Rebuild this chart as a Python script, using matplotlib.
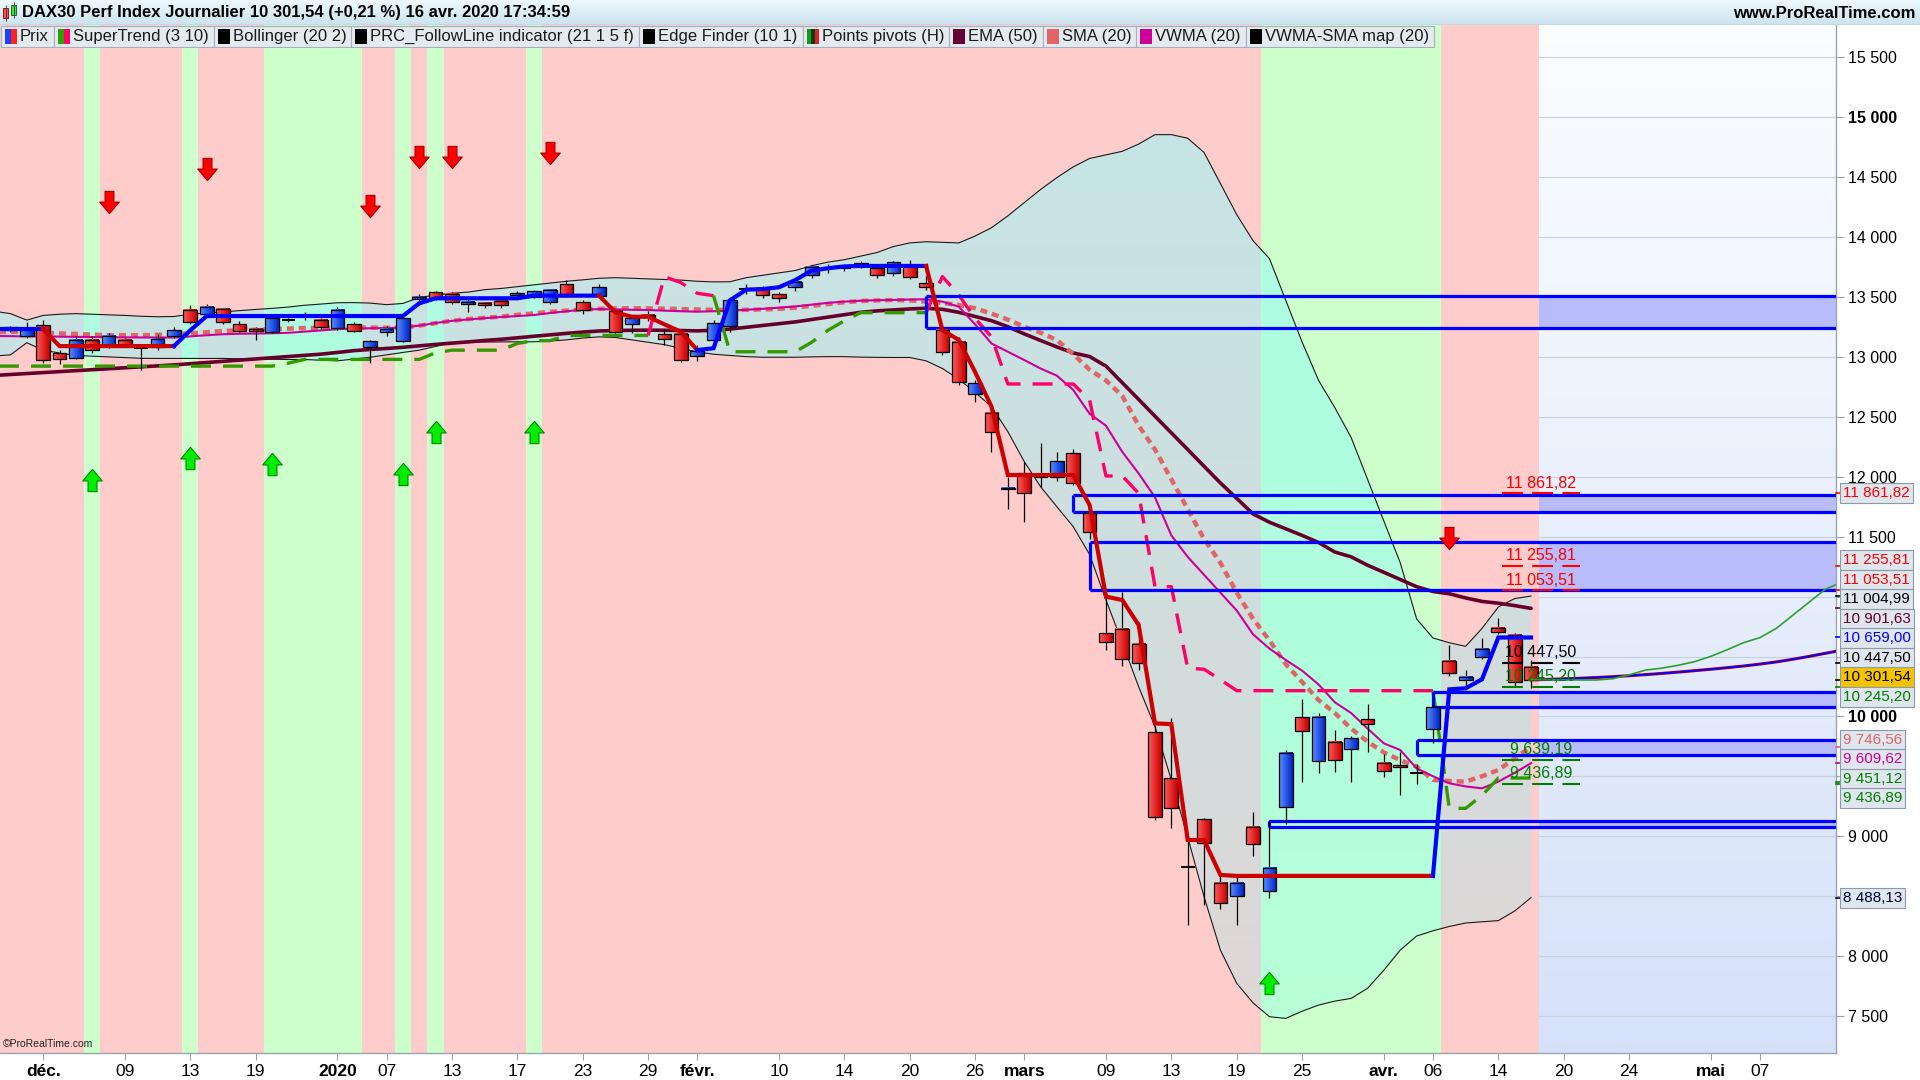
import numpy as np
import matplotlib
matplotlib.use("Agg")
import matplotlib.pyplot as plt
from matplotlib import font_manager
from matplotlib.path import Path
from matplotlib.patches import Rectangle
from matplotlib.lines import Line2D

plt.rcParams['font.family'] = ['Liberation Sans', 'DejaVu Sans']
_names = {f.name for f in font_manager.fontManager.ttflist}
NARROW = 'Liberation Sans Narrow' if 'Liberation Sans Narrow' in _names else 'Liberation Sans'

# ---------------- données ----------------
# index de séance : 0 = 2 déc. 2019 ; la 1re bougie visible est à -2
first_idx = -2

opens = [13224, 13177, 13263, 13037, 12995, 13146, 13090, 13146, 13076, 13084,
         13174, 13389, 13356, 13397, 13274, 13233, 13210, 13312, 13340, 13308,
         13238, 13274, 13084, 13205, 13137, 13481, 13540, 13523, 13442, 13448,
         13467, 13518, 13504, 13456, 13607, 13456, 13512, 13384, 13272, 13350,
         13191, 13196, 13012, 13146, 13262, 13567, 13577, 13522, 13582, 13682,
         13740, 13750, 13760, 13740, 13700, 13769, 13616, 13226, 13129, 12689,
         12530, 11896, 12029, 11996, 12002, 12196, 11695, 10693, 10727, 10605,
         9867, 9483, 8744, 9141, 8613, 8502, 9079, 8543, 9241, 9992,
         9625, 9789, 9726, 9975, 9608, 9595, 9530, 9893, 10466, 10304,
         10494, 10736, 10680, 10416]
highs = [13260, 13294, 13312, 13062, 13172, 13172, 13202, 13162, 13102, 13192,
         13252, 13432, 13442, 13409, 13297, 13247, 13332, 13322, 13377, 13322,
         13417, 13292, 13142, 13262, 13332, 13522, 13552, 13542, 13487, 13462,
         13477, 13547, 13562, 13567, 13642, 13472, 13612, 13392, 13352, 13382,
         13232, 13222, 13100, 13310, 13500, 13610, 13590, 13540, 13650, 13770,
         13780, 13765, 13800, 13760, 13800, 13812, 13672, 13254, 13165, 12806,
         12587, 12002, 12127, 12281, 12209, 12229, 11730, 11041, 11041, 10786,
         9929, 9986, 8969, 9149, 8675, 8663, 9200, 9136, 9720, 10143,
         10028, 9887, 9839, 10104, 9687, 9706, 9600, 10098, 10597, 10387,
         10653, 10820, 10695, 10472]
lows = [13212, 13162, 12952, 12942, 12982, 13032, 13072, 13082, 12889, 13062,
        13162, 13272, 13342, 13272, 13212, 13142, 13202, 13292, 13312, 13237,
        13222, 13212, 12947, 13172, 13122, 13462, 13472, 13442, 13372, 13412,
        13412, 13502, 13492, 13442, 13502, 13362, 13502, 13202, 13202, 13302,
        13102, 12962, 12970, 13110, 13210, 13530, 13490, 13460, 13550, 13660,
        13700, 13720, 13740, 13660, 13680, 13652, 13562, 13014, 12765, 12626,
        12210, 11729, 11625, 11917, 11969, 11929, 11481, 10554, 10423, 10387,
        9135, 9066, 8260, 8426, 8395, 8260, 8838, 8481, 9102, 9455,
        9525, 9539, 9455, 9704, 9497, 9344, 9440, 9776, 10337, 10237,
        10476, 10685, 10249, 10235]
closes = [13247, 13224, 12972, 12987, 13146, 13056, 13174, 13104, 13082, 13154,
          13224, 13288, 13417, 13288, 13221, 13213, 13322, 13308, 13344, 13247,
          13389, 13221, 13132, 13233, 13322, 13498, 13490, 13456, 13459, 13431,
          13431, 13532, 13548, 13560, 13512, 13392, 13582, 13205, 13322, 13330,
          13154, 12978, 13046, 13282, 13479, 13575, 13514, 13494, 13627, 13749,
          13745, 13744, 13783, 13681, 13789, 13666, 13588, 13039, 12794, 12780,
          12371, 11910, 11863, 12014, 12130, 11947, 11542, 10624, 10476, 10443,
          9163, 9233, 8738, 8941, 8441, 8613, 8933, 8738, 9698, 9879,
          9998, 9636, 9817, 9934, 9541, 9581, 9530, 10076, 10360, 10332,
          10563, 10702, 10285, 10301.54]

# indicateurs : une valeur de plus à gauche (index -3, hors cadre)
line_first_idx = -3
bb_upper = [13382, 13362, 13308, 13347, 13357, 13362, 13357, 13352, 13347, 13340, 13336,
            13338, 13357, 13367, 13377, 13387, 13397, 13406, 13417, 13432, 13442,
            13453, 13454, 13450, 13437, 13447, 13497, 13517, 13532, 13542, 13562,
            13572, 13587, 13602, 13617, 13632, 13644, 13657, 13662, 13657, 13652,
            13647, 13642, 13632, 13627, 13628, 13662, 13682, 13702, 13722, 13762,
            13792, 13812, 13842, 13872, 13922, 13952, 13962, 13957, 13952, 14010,
            14079, 14178, 14288, 14398, 14497, 14587, 14657, 14687, 14717, 14777,
            14856, 14856, 14826, 14707, 14448, 14188, 13970, 13821, 13472, 13124,
            12806, 12577, 12327, 11979, 11630, 11282, 10814, 10655, 10615, 10585,
            10735, 10914, 10984, 11005]
bb_lower = [13008, 13018, 13119, 13057, 13033, 13013, 13007, 13001, 12995, 12989, 12988,
            12988, 12988, 12988, 12988, 12985, 12983, 12981, 12979, 12979, 12973,
            12968, 12983, 12998, 13018, 13038, 13057, 13088, 13119, 13123, 13125,
            13126, 13127, 13127, 13133, 13143, 13158, 13168, 13163, 13143, 13123,
            13103, 13073, 13043, 13023, 13013, 13003, 12998, 12998, 12998, 13001,
            13003, 13003, 12999, 12997, 12996, 12996, 12968, 12904, 12815, 12705,
            12586, 12377, 12128, 11918, 11750, 11584, 11352, 10972, 10615, 10248,
            9914, 9470, 8993, 8495, 8050, 7772, 7609, 7494, 7480, 7540,
            7591, 7624, 7647, 7731, 7883, 8050, 8167, 8211, 8247, 8276,
            8286, 8296, 8376, 8488]
sma20 = [13208, 13210, 13212, 13202, 13197, 13192, 13187, 13182, 13182, 13182, 13185,
         13190, 13197, 13207, 13217, 13222, 13227, 13232, 13237, 13242, 13244,
         13246, 13247, 13246, 13244, 13246, 13262, 13282, 13302, 13317, 13327,
         13337, 13352, 13364, 13377, 13387, 13397, 13402, 13406, 13407, 13406,
         13404, 13400, 13397, 13394, 13392, 13394, 13397, 13402, 13412, 13427,
         13442, 13457, 13467, 13472, 13476, 13472, 13462, 13452, 13434, 13407,
         13362, 13312, 13253, 13203, 13141, 13024, 12894, 12805, 12675, 12427,
         12228, 11979, 11730, 11481, 11282, 11033, 10814, 10635, 10436, 10287,
         10137, 10028, 9899, 9789, 9700, 9635, 9581, 9470, 9461, 9456,
         9501, 9553, 9650, 9747]
vwma20 = [13175, 13174, 13172, 13172, 13170, 13168, 13167, 13165, 13164, 13163, 13163,
          13163, 13172, 13182, 13190, 13194, 13196, 13198, 13202, 13212, 13222,
          13232, 13237, 13240, 13242, 13246, 13262, 13284, 13302, 13314, 13324,
          13334, 13342, 13350, 13367, 13382, 13394, 13400, 13397, 13394, 13392,
          13387, 13382, 13378, 13382, 13387, 13394, 13402, 13412, 13422, 13437,
          13452, 13462, 13470, 13474, 13476, 13480, 13482, 13462, 13420, 13272,
          13113, 13044, 12975, 12904, 12844, 12725, 12526, 12427, 12208, 12028,
          11829, 11511, 11332, 11182, 11033, 10884, 10685, 10566, 10471, 10382,
          10267, 10118, 10028, 9899, 9775, 9720, 9567, 9501, 9442, 9416,
          9400, 9456, 9530, 9610]
ema50 = [12846, 12854, 12862, 12870, 12878, 12886, 12894, 12902, 12910, 12918, 12926,
         12934, 12944, 12954, 12964, 12974, 12984, 12994, 13004, 13014, 13024,
         13038, 13053, 13063, 13071, 13081, 13093, 13105, 13116, 13126, 13138,
         13148, 13160, 13173, 13185, 13197, 13208, 13217, 13221, 13223, 13224,
         13223, 13221, 13218, 13223, 13233, 13248, 13263, 13278, 13293, 13313,
         13333, 13353, 13373, 13385, 13393, 13401, 13407, 13398, 13373, 13338,
         13303, 13253, 13193, 13138, 13084, 13034, 13004, 12924, 12785, 12646,
         12506, 12367, 12228, 12088, 11949, 11820, 11690, 11621, 11566, 11511,
         11452, 11372, 11332, 11262, 11203, 11143, 11083, 11043, 11024, 10989,
         10960, 10945, 10925, 10902]
supertrend = [12924, 12924, 12924, 12924, 12924, 12924, 12924, 12924, 12924, 12924, 12924,
              12924, 12924, 12924, 12924, 12924, 12924, 12924, 12949, 12980, 12980,
              12980, 12980, 12980, 12980, 12980, 12980, 13035, 13057, 13057, 13057,
              13057, 13113, 13136, 13136, 13180, 13180, 13180, 13180, 13180, 13180,
              13670, 13621, 13532, 13512, 13044, 13044, 13044, 13044, 13044, 13123,
              13223, 13302, 13370, 13370, 13370, 13370, 13370, 13671, 13518, 13322,
              13169, 12775, 12775, 12775, 12775, 12775, 12641, 12007, 12007, 11862,
              11083, 11083, 10402, 10394, 10307, 10215, 10215, 10215, 10215, 10215,
              10215, 10215, 10215, 10215, 10215, 10215, 10215, 10215, 9233, 9233,
              9341, 9486, 9486, 9486]
followline = [13233, 13233, 13233, 13233, 13091, 13091, 13091, 13091, 13091, 13091, 13091,
              13091, 13223, 13342, 13342, 13342, 13342, 13342, 13342, 13342, 13342,
              13342, 13342, 13342, 13342, 13342, 13448, 13490, 13490, 13490, 13490,
              13490, 13490, 13512, 13512, 13512, 13512, 13512, 13372, 13336, 13336,
              13272, 13211, 13058, 13073, 13472, 13562, 13567, 13582, 13642, 13721,
              13741, 13756, 13760, 13760, 13760, 13760, 13760, 13223, 13143, 12874,
              12586, 12015, 12015, 12015, 12015, 12015, 11765, 11000, 10972, 10763,
              9942, 9936, 8969, 8969, 8677, 8669, 8669, 8669, 8669, 8669,
              8669, 8669, 8669, 8669, 8669, 8669, 8669, 8669, 10226, 10235,
              10310, 10659, 10659, 10659]
# tendances (index de début, index de fin, sens)
supertrend_runs = [(-3, 37, 'up'), (38, 41, 'down'), (42, 54, 'up'), (55, 85, 'down'), (86, 91, 'up')]
followline_runs = [(-3, 0, 'up'), (1, 8, 'down'), (9, 34, 'up'), (35, 40, 'down'),
                   (41, 54, 'up'), (55, 85, 'down'), (86, 91, 'up')]

# fonds verts (séances), le reste de l'historique est rose
green_zones = [(3, 3), (9, 9), (14, 19), (22, 22), (24, 24), (30, 30), (75, 85)]
buy_idx = [3, 9, 14, 22, 24, 30, 75]
buy_lvl = [11973, 12156, 12105, 12024, 12371, 12371, 7773]
sell_idx = [4, 10, 20, 23, 25, 31, 86]
sell_lvl = [14293, 14569, 14262, 14672, 14672, 14703, 11492]

# zones Edge Finder
zone_top = [13509, 11850, 11453, 10204, 9803, 9127]
zone_bot = [13242, 11707, 11055, 10079, 9677, 9074]
zone_start = [54, 63, 64, 85, 84, 75]

# points pivots
pivot_vals = [11861.82, 11255.81, 11053.51, 10447.50, 10245.20, 9639.19, 9436.89]
pivot_cols = ['#ff0000', '#ff0000', '#ff0000', '#000000', '#008000', '#008000', '#008000']

# projections dans la zone future
proj_x = list(range(91, 111))
proj_green = [10309, 10307, 10305, 10304, 10304, 10315, 10347, 10387, 10403, 10427,
              10457, 10502, 10557, 10616, 10658, 10735, 10844, 10953, 11062, 11120]
proj_blue = [10305, 10309, 10314, 10319, 10325, 10332, 10340, 10349, 10359, 10370,
             10382, 10394, 10407, 10421, 10437, 10455, 10477, 10501, 10527, 10552]

# étiquettes de l'axe des prix
tag_values = [11861.82, 11255.81, 11053.51, 11004.99, 10901.63, 10659.00, 10447.50,
              10301.54, 10245.20, 9746.56, 9609.62, 9451.12, 9436.89, 8488.13]
tag_colors = ['#ff0000', '#ff0000', '#ff0000', '#000000', '#660033', '#0000ff', '#000000',
              '#000000', '#008000', '#e06666', '#cc0099', '#008000', '#008000', '#000033']
last_price = 10301.54

y_ticks = [7500, 8000, 8500, 9000, 9500, 10000, 10500, 11000, 11500,
           12000, 12500, 13000, 13500, 14000, 14500, 15000, 15500]
x_tick_pos = [0, 5, 9, 13, 18, 21, 25, 29, 33, 37, 40, 45, 49, 53, 57, 60,
              65, 69, 73, 77, 82, 85, 89, 93, 97, 102, 105]
x_tick_lbl = ['déc.', '09', '13', '19', '2020', '07', '13', '17', '23', '29', 'févr.',
              '10', '14', '20', '26', 'mars', '09', '13', '19', '25', 'avr.', '06',
              '14', '20', '24', 'mai', '07']
month_lbl = {'déc.', '2020', 'févr.', 'mars', 'avr.', 'mai'}

legend_items = [('Prix', ['#1f3fff', '#ff2020']),
                ('SuperTrend (3 10)', ['#2e9e00', '#ff0066']),
                ('Bollinger (20 2)', ['#000000']),
                ('PRC_FollowLine indicator (21 1 5 f)', ['#000000']),
                ('Edge Finder (10 1)', ['#000000']),
                ('Points pivots (H)', ['#1a9a1a', '#0b3d0b', '#e02020']),
                ('EMA (50)', ['#660033']),
                ('SMA (20)', ['#e06666']),
                ('VWMA (20)', ['#cc0099']),
                ('VWMA-SMA map (20)', ['#000000'])]
title = 'DAX30 Perf Index Journalier 10 301,54 (+0,21 %) 16 avr. 2020 17:34:59'


def fr(v, dec=2):
    s = f"{v:,.{dec}f}"
    return s.replace(',', ' ').replace('.', ',')


# ---------------- figure ----------------
W, H = 1920, 1080
fig = plt.figure(figsize=(W / 100, H / 100), dpi=100)
fig.patch.set_facecolor('white')
ax = fig.add_axes([0, 27 / H, 1836 / W, 1028 / H])

XLO, XHI = -2.64, 109.65
YLO, YHI = 7191, 15771
FUT = 91.5

x = np.arange(len(opens)) + first_idx
xl = np.arange(len(bb_upper)) + line_first_idx

# fond futur en dégradé + grille
t = np.linspace(0, 1, 100)[:, None, None]
fut_img = (1 - t) * np.array([0.84, 0.886, 0.98]) + t * np.array([0.985, 0.99, 1.0])
ax.imshow(fut_img, extent=[FUT, XHI, YLO, YHI], origin='lower', aspect='auto', zorder=0.2)
for v in y_ticks:
    ax.axhline(v, color='#c8d2de', lw=0.8, zorder=0.5)

# fonds rose / vert
ax.axvspan(XLO, FUT, facecolor='#ffcccc', lw=0, zorder=1)
for a, b in green_zones:
    ax.axvspan(a - 0.5, b + 0.5, facecolor='#ccffcc', lw=0, zorder=1.1)

# zones Edge Finder : remplissage dans le futur
for top, bot in zip(zone_top, zone_bot):
    ax.fill_between([FUT, XHI], bot, top, color='#b8bcfa', lw=0, zorder=1.5)

# bandes de Bollinger (remplissage en dégradé vertical)
poly = ax.fill_between(xl, bb_lower, bb_upper, facecolor='none', edgecolor='none')
vv = np.linspace(YLO, YHI, 200)
tt = np.clip((vv - 7500) / 7500, 0, 1)
band = np.zeros((200, 1, 4))
band[:, 0, 0] = 0.42 + 0.18 * tt
band[:, 0, 1] = 1.0 - 0.02 * tt
band[:, 0, 2] = 1.0 - 0.02 * tt
band[:, 0, 3] = 0.21 + 0.34 * tt
im = ax.imshow(band, extent=[xl[0], xl[-1], YLO, YHI], origin='lower', aspect='auto', zorder=2)
im.set_clip_path(poly.get_paths()[0], transform=ax.transData)
ax.plot(xl, bb_upper, color='#1a1a1a', lw=0.8, zorder=3)
ax.plot(xl, bb_lower, color='#1a1a1a', lw=0.8, zorder=3)

# moyennes
ax.plot(xl, ema50, color='#66002b', lw=2.6, zorder=4, solid_capstyle='round')
ax.plot(xl, sma20, color='#e06666', lw=3.2, ls=(0, (1.6, 1.1)), zorder=4.2)
ax.plot(xl, vwma20, color='#cc0099', lw=1.5, zorder=4.4)


def draw_runs(vals, runs, colors, **kw):
    vals = np.asarray(vals, float)
    for a, b, side in runs:
        lo = max(a - 1, line_first_idx)
        xs = np.arange(lo, b + 1)
        ax.plot(xs, vals[xs - line_first_idx], color=colors[side], **kw)


draw_runs(supertrend, supertrend_runs, {'up': '#339900', 'down': '#ff0066'},
          lw=2.4, ls=(0, (6, 3.6)), zorder=4.6)

# zones Edge Finder : contours
for top, bot, st in zip(zone_top, zone_bot, zone_start):
    ax.hlines([top, bot], st, XHI, color='#0000ff', lw=2.3, zorder=5)
    ax.vlines(st, bot, top, color='#0000ff', lw=2.3, zorder=5)


# bougies
def grad(c1, c2, n=16):
    g = np.linspace(0, 1, n)[None, :, None]
    return (1 - g) * np.array(c1) + g * np.array(c2)


up_img = grad([0.35, 0.55, 1.0], [0.0, 0.15, 0.78])
dn_img = grad([1.0, 0.35, 0.35], [0.78, 0.0, 0.0])
bw = 0.42
for xi, o, h, l, c in zip(x, opens, highs, lows, closes):
    ax.vlines(xi, l, h, color='black', lw=0.9, zorder=6)
    lo_b, hi_b = min(o, c), max(o, c)
    if hi_b - lo_b < 12:
        ax.hlines((o + c) / 2, xi - bw, xi + bw, color='black', lw=1.5, zorder=6.2)
        continue
    ax.imshow(up_img if c >= o else dn_img, extent=[xi - bw, xi + bw, lo_b, hi_b],
              aspect='auto', zorder=6.1, interpolation='bilinear')
    ax.add_patch(Rectangle((xi - bw, lo_b), 2 * bw, hi_b - lo_b, fill=False,
                           ec='black', lw=0.9, zorder=6.2))

draw_runs(followline, followline_runs, {'up': '#0000ff', 'down': '#cc0000'},
          lw=3.0, zorder=6.5, solid_joinstyle='miter')

# projections
ax.plot(proj_x, proj_blue, color='#cc0000', lw=2.2, zorder=6.6)
ax.plot(proj_x, proj_blue, color='#0000ff', lw=1.3, zorder=6.7)
ax.plot(proj_x, proj_green, color='#2ea02e', lw=1.2, zorder=6.7)

# pivots
for v, col in zip(pivot_vals, pivot_cols):
    ax.hlines(v, 89.2, 94.0, color=col, lw=1.5, linestyles=(0, (10, 4.5)), zorder=7)
    ax.text(91.6, v + 22, fr(v), color=col, ha='center', va='bottom', fontsize=11.5, zorder=7)

# flèches
arrow_dn = Path([(-0.2, 0.5), (0.2, 0.5), (0.2, 0.02), (0.44, 0.02), (0.0, -0.5),
                 (-0.44, 0.02), (-0.2, 0.02), (-0.2, 0.5)],
                [Path.MOVETO] + [Path.LINETO] * 6 + [Path.CLOSEPOLY])
arrow_up = Path(arrow_dn.vertices * np.array([1, -1]), arrow_dn.codes)
ax.plot(sell_idx, sell_lvl, ls='none', marker=arrow_dn, ms=16, mfc='#ff0000',
        mec='#a00000', mew=0.8, zorder=7.5)
ax.plot(buy_idx, buy_lvl, ls='none', marker=arrow_up, ms=16, mfc='#00ee00',
        mec='#008800', mew=0.8, zorder=7.5)

ax.text(0.0015, 0.006, '©ProRealTime.com', transform=ax.transAxes, fontsize=7.5,
        color='#222222', zorder=10)

# axes
ax.set_xlim(XLO, XHI)
ax.set_ylim(YLO, YHI)
ax.yaxis.set_ticks_position('right')
ax.set_yticks(y_ticks, [fr(v, 0) for v in y_ticks])
for lbl, v in zip(ax.get_yticklabels(), y_ticks):
    if v in (10000, 15000):
        lbl.set_fontweight('bold')
ax.tick_params(axis='y', direction='out', length=6, width=0.8, pad=3, colors='#9aa4ae',
               labelcolor='black', labelsize=11.5)
ax.set_xticks(x_tick_pos, x_tick_lbl)
for lbl in ax.get_xticklabels():
    lbl.set_fontsize(12.5)
    if lbl.get_text() in month_lbl:
        lbl.set_fontweight('bold')
    else:
        lbl.set_fontfamily(NARROW)
ax.tick_params(axis='x', direction='out', length=5, width=0.8, pad=3, colors='#9aa4ae',
               labelcolor='black')
for side in ('top', 'left'):
    ax.spines[side].set_visible(False)
for side in ('right', 'bottom'):
    ax.spines[side].set_color('#9aa4ae')
    ax.spines[side].set_linewidth(1.0)

# étiquettes de l'axe des prix : groupes empilés autour de leur valeur
items = sorted(zip(tag_values, tag_colors), key=lambda it: -it[0])
own = [ax.transData.transform((0, v))[1] for v, _ in items]
box_h = 19.5
clusters = [[k] for k in range(len(items))]


def place(cl):
    m = np.mean([own[k] for k in cl])
    n = len(cl)
    return [m + box_h * ((n - 1) / 2 - j) for j in range(n)]


merged = True
while merged:
    merged = False
    for ci in range(len(clusters) - 1):
        if place(clusters[ci])[-1] - place(clusters[ci + 1])[0] < box_h:
            clusters[ci] = clusters[ci] + clusters.pop(ci + 1)
            merged = True
            break

tag_y = []
for cl in clusters:
    for k, yd in zip(cl, place(cl)):
        v, col = items[k]
        tag_y.append(yd)
        face = '#f5c400' if abs(v - last_price) < 0.001 else '#dfe6ee'
        fig.text(1843 / W, yd / H, fr(v), color=col, fontsize=11, va='center', ha='left',
                 zorder=10, bbox=dict(boxstyle='square,pad=0.2', fc=face, ec='#8c99a6', lw=0.8))
        fig.add_artist(Line2D([1836 / W, 1842 / W], [own[k] / H, own[k] / H], color=col, lw=1.2))

# graduations masquées par une étiquette (comme sur l'original)
for lbl, v in zip(ax.get_yticklabels(), y_ticks):
    yp = ax.transData.transform((0, v))[1]
    if any(abs(yp - ty) < box_h / 2 + 5 for ty in tag_y):
        lbl.set_visible(False)

# bandeau titre
hdr = fig.add_axes([0, 1 - 25 / H, 1, 25 / H])
hdr.axis('off')
hg = np.linspace(0, 1, 50)[:, None, None]
hdr.imshow((1 - hg) * np.array([0.93, 0.975, 0.99]) + hg * np.array([0.80, 0.89, 0.94]),
           extent=[0, W, 25, 0], aspect='auto')
hdr.set_xlim(0, W)
hdr.set_ylim(25, 0)
hdr.axhline(24.5, color='#9db2c1', lw=1)
hdr.add_patch(Rectangle((3, 8), 5, 10, fc='#ff5050', ec='#800000', lw=0.6))
hdr.add_patch(Rectangle((11, 5), 5, 10, fc='#40e040', ec='#006000', lw=0.6))
hdr.vlines([5.5, 13.5], [5, 2], [21, 18], color='#333333', lw=0.6)
hdr.text(22, 13, title, fontsize=12, fontweight='bold', va='center', ha='left')
hdr.text(1915, 13, 'www.ProRealTime.com', fontsize=12, fontweight='bold',
         va='center', ha='right')

# légende
leg = fig.add_axes([0, 1 - 48 / H, 1, 23 / H])
leg.axis('off')
leg.set_xlim(0, W)
leg.set_ylim(48, 25)
leg.set_zorder(3)
renderer = fig.canvas.get_renderer()
xcur = 1
for label, cols in legend_items:
    tx = leg.text(xcur + 19, 36.5, label, fontsize=12, va='center', ha='left',
                  color='#1a1a1a', zorder=3)
    tw = tx.get_window_extent(renderer).width
    bwid = 19 + tw + 5
    leg.add_patch(Rectangle((xcur, 26), bwid, 21, fc='#e5eaef', ec='#a5b0bb', lw=0.8, zorder=1))
    iw = 12 / len(cols)
    for k, c in enumerate(cols):
        leg.add_patch(Rectangle((xcur + 4 + k * iw, 29), iw, 15, fc=c, ec='none', zorder=2))
    xcur += bwid

fig.savefig('out.png', dpi=100)
